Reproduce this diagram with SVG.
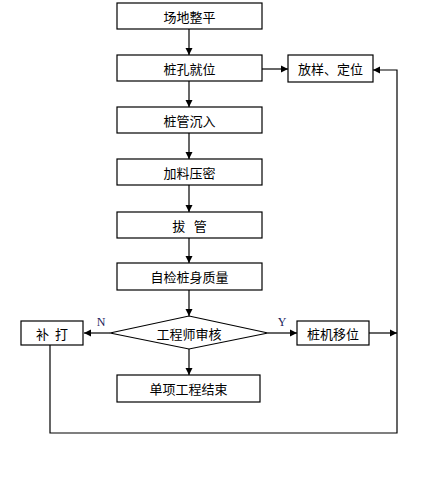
<svg xmlns="http://www.w3.org/2000/svg" width="447" height="496" viewBox="0 0 447 496">
<style>
.b{fill:#fff;stroke:#000;stroke-width:1.2}
.t{font-family:"Noto Sans CJK SC","Liberation Sans",sans-serif;font-size:13px;fill:#000;text-anchor:middle;dominant-baseline:central}
.l{font-family:"Liberation Serif",serif;font-size:12px;fill:#1a1a5a;text-anchor:middle}
.c{fill:none;stroke:#000;stroke-width:1.2}
</style>
<defs>
<marker id="a" markerWidth="8" markerHeight="8" refX="7" refY="4" orient="auto" markerUnits="userSpaceOnUse">
<path d="M0,0.5 L7,4 L0,7.5 Z" fill="#000"/>
</marker>
</defs>
<rect width="447" height="496" fill="#fff"/>
<g id="connectors">
<line class="c" x1="189" y1="29" x2="189" y2="55" marker-end="url(#a)"/>
<line class="c" x1="189" y1="81" x2="189" y2="107" marker-end="url(#a)"/>
<line class="c" x1="189" y1="133" x2="189" y2="159" marker-end="url(#a)"/>
<line class="c" x1="189" y1="185" x2="189" y2="212" marker-end="url(#a)"/>
<line class="c" x1="189" y1="238" x2="189" y2="263" marker-end="url(#a)"/>
<line class="c" x1="189" y1="290" x2="189" y2="316" marker-end="url(#a)"/>
<line class="c" x1="189" y1="349" x2="189" y2="375" marker-end="url(#a)"/>
<line class="c" x1="262" y1="69" x2="288" y2="69" marker-end="url(#a)"/>
<line class="c" x1="110" y1="333" x2="84" y2="333" marker-end="url(#a)"/>
<line class="c" x1="268" y1="333" x2="297" y2="333" marker-end="url(#a)"/>
<line class="c" x1="369" y1="333" x2="397" y2="333" marker-end="url(#a)"/>
<polyline class="c" points="50,345 50,433 397,433 397,70 373,70" marker-end="url(#a)"/>
</g>
<g id="n1"><rect class="b" x="117" y="3" width="145" height="26"/><text class="t" x="189.5" y="16">场地整平</text></g>
<g id="n2"><rect class="b" x="117" y="55" width="145" height="26"/><text class="t" x="189.5" y="68">桩孔就位</text></g>
<g id="n3"><rect class="b" x="117" y="107" width="145" height="26"/><text class="t" x="189.5" y="120">桩管沉入</text></g>
<g id="n4"><rect class="b" x="117" y="159" width="145" height="26"/><text class="t" x="189.5" y="172">加料压密</text></g>
<g id="n5"><rect class="b" x="117" y="212" width="145" height="26"/><text class="t" x="189.5" y="225" xml:space="preserve">拔   管</text></g>
<g id="n6"><rect class="b" x="117" y="263" width="145" height="27"/><text class="t" x="189.5" y="276.5">自检桩身质量</text></g>
<g id="n7"><polygon class="b" points="189,316 268,333 189,349 110,333"/><text class="t" x="189" y="333">工程师审核</text></g>
<g id="n8"><rect class="b" x="21" y="321" width="62" height="24"/><text class="t" x="52" y="333" xml:space="preserve">补  打</text></g>
<g id="n9"><rect class="b" x="297" y="321" width="72" height="24"/><text class="t" x="333" y="333">桩机移位</text></g>
<g id="n10"><rect class="b" x="117" y="375" width="143" height="27"/><text class="t" x="188.5" y="388.5">单项工程结束</text></g>
<g id="n11"><rect class="b" x="288" y="55" width="85" height="27"/><text class="t" x="330.5" y="68.5">放样、定位</text></g>
<text class="l" x="101" y="326">N</text>
<text class="l" x="282" y="326">Y</text>
</svg>
